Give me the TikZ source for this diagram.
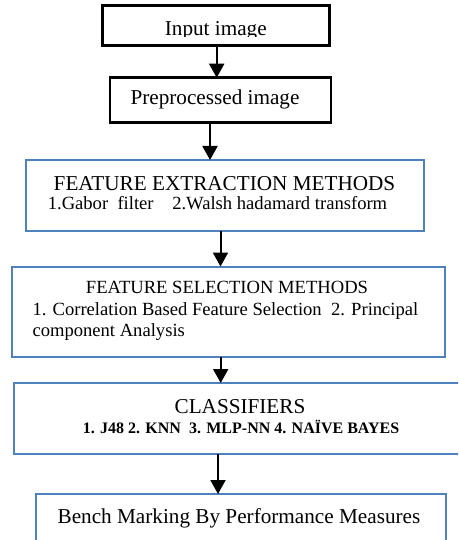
\documentclass[tikz,border=0pt]{standalone}
\usepackage{fontspec}
\setmainfont{Liberation Serif}
\usetikzlibrary{arrows.meta}
\definecolor{boxblue}{HTML}{4F81BD}
\tikzset{
  blackbox/.style={draw=black, line width=2.4pt, inner sep=0pt, outer sep=0pt},
  bluebox/.style={draw=boxblue, line width=2pt, inner sep=0pt, outer sep=0pt},
  txt/.style={inner sep=0pt, outer sep=0pt, anchor=base},
  ltxt/.style={inner sep=0pt, outer sep=0pt, anchor=base west},
  arr/.style={line width=2pt, -{Triangle[width=15pt,length=14pt]}},
  big/.style={font=\fontsize{21.2}{24}\selectfont},
  mid/.style={font=\fontsize{18.6}{22}\selectfont},
  boldsmall/.style={font=\fontsize{16}{19}\selectfont\bfseries}
}
\begin{document}
\begin{tikzpicture}[x=1pt, y=-1pt]
\useasboundingbox (0,0) rectangle (458,540);
\clip (0,0) rectangle (458,540);
% boxes
\node[blackbox, minimum width=227pt, minimum height=40pt] (b1) at (215.8,25.7) {};
\node[blackbox, minimum width=221pt, minimum height=45pt] (b2) at (220.5,100.2) {};
\node[bluebox, minimum width=398pt, minimum height=71pt] (b3) at (225,195.5) {};
\node[bluebox, minimum width=433pt, minimum height=90pt] (b4) at (228,311.5) {};
\node[bluebox, minimum width=450pt, minimum height=71pt] (b5) at (239,418.5) {};
\node[bluebox, minimum width=410pt, minimum height=56pt] (b6) at (241,522) {};
% texts
\begin{scope}
\clip (100,0) rectangle (335,36.8);
\node[txt, big] (t1) at (215.8,36) {Input image};
\end{scope}
\node[txt, big] (t2) at (215,105) {Preprocessed image};
\node[txt, big] (t3a) at (224.5,190.5) {FEATURE EXTRACTION METHODS};
\node[txt, mid] (t3b) at (217.5,209) {1.Gabor\ \ filter\ \ \ \ 2.Walsh hadamard transform};
\node[txt, mid] (t4a) at (227,293.5) {FEATURE SELECTION METHODS};
\node[ltxt, mid] (t4b) at (32.5,315) {1. Correlation Based Feature Selection\ \ 2. Principal};
\node[ltxt, mid] (t4c) at (32.5,336.5) {component Analysis};
\node[txt, big] (t5a) at (240,413.5) {CLASSIFIERS};
\node[txt, boldsmall] (t5b) at (241,433) {1. J48 2. KNN\ \ 3. MLP-NN 4. NAÏVE BAYES};
\node[txt, big] (t6) at (239,523) {Bench Marking By Performance Measures};
% arrow columns
\coordinate (c1) at (216.7,0);
\coordinate (c2) at (210,0);
\coordinate (c3) at (220.5,0);
\coordinate (c4) at (220.7,0);
\coordinate (c5) at (218,0);
\draw[arr] (b1.south -| c1) -- (b2.north -| c1);
\draw[arr] (b2.south -| c2) -- (b3.north -| c2);
\draw[arr] (b3.south -| c3) -- (b4.north -| c3);
\draw[arr] (b4.south -| c4) -- (b5.north -| c4);
\draw[arr] (b5.south -| c5) -- (b6.north -| c5);
\end{tikzpicture}
\end{document}
